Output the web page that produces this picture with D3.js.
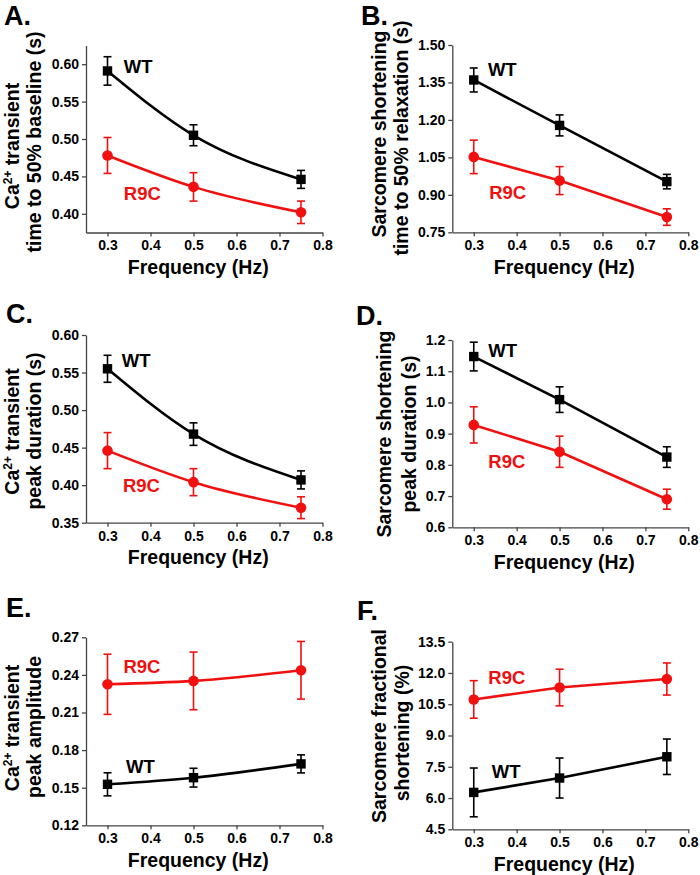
<!DOCTYPE html>
<html><head><meta charset="utf-8">
<script src="https://cdn.jsdelivr.net/npm/d3@7"></script>
<style>
html,body{margin:0;padding:0;background:#fff;}
svg{display:block;font-family:"Liberation Sans",Arial,sans-serif;font-weight:bold;}
</style></head>
<body>
<svg id="chart" width="700" height="875"></svg>
<script>
// ---------- data ----------
const freq = [0.3, 0.5, 0.75];
const xTicks = [0.3, 0.4, 0.5, 0.6, 0.7, 0.8];

const wtA = [0.591, 0.505, 0.446];  const wtAErr = [0.019, 0.014, 0.012];
const r9cA = [0.478, 0.436, 0.402]; const r9cAErr = [0.024, 0.019, 0.015];
const yTicksA = [0.40, 0.45, 0.50, 0.55, 0.60];

const wtB = [1.360, 1.178, 0.953];  const wtBErr = [0.048, 0.042, 0.029];
const r9cB = [1.052, 0.957, 0.811]; const r9cBErr = [0.067, 0.056, 0.033];
const yTicksB = [0.75, 0.90, 1.05, 1.20, 1.35, 1.50];

const wtC = [0.555, 0.468, 0.407];  const wtCErr = [0.018, 0.015, 0.012];
const r9cC = [0.446, 0.404, 0.370]; const r9cCErr = [0.024, 0.018, 0.0145];
const yTicksC = [0.35, 0.40, 0.45, 0.50, 0.55, 0.60];

const wtD = [1.147, 1.009, 0.825];  const wtDErr = [0.046, 0.041, 0.033];
const r9cD = [0.928, 0.842, 0.690]; const r9cDErr = [0.058, 0.050, 0.032];
const yTicksD = [0.6, 0.7, 0.8, 0.9, 1.0, 1.1, 1.2];

const wtE = [0.1527, 0.158, 0.169];   const wtEErr = [0.0092, 0.0075, 0.0072];
const r9cE = [0.2325, 0.2352, 0.2437]; const r9cEErr = [0.024, 0.023, 0.023];
const yTicksE = [0.12, 0.15, 0.18, 0.21, 0.24, 0.27];

const wtF = [6.27, 6.96, 7.98];     const wtFErr = [1.17, 0.96, 0.85];
const r9cF = [10.73, 11.30, 11.71]; const r9cFErr = [0.90, 0.88, 0.77];
const yTicksF = [4.5, 6.0, 7.5, 9.0, 10.5, 12.0, 13.5];

const RED = "#f01010", BLACK = "#000";

// ---------- panels ----------
const panels = [
  {letter:"A.", lx:4, ly:25, x0:86, x1:322.5, yTop:45.5, yBot:232.5, dom:[0.375,0.625], ticks:yTicksA, fmt:".2f",
   wt:wtA, wtErr:wtAErr, r9c:r9cA, r9cErr:r9cAErr, curved:true,
   t1:["Ca","2+"," transient"], t2:"time to 50% baseline (s)", tx:[18.5,41], tc:[146,142],
   wtLab:[0.338,0.588], r9cLab:[0.338,0.4185]},
  {letter:"B.", lx:361, ly:25, x0:452.3, x1:688.3, yTop:45, yBot:232.3, dom:[0.75,1.50], ticks:yTicksB, fmt:".2f",
   wt:wtB, wtErr:wtBErr, r9c:r9cB, r9cErr:r9cBErr, curved:false,
   t1:["Sarcomere shortening"], t2:"time to 50% relaxation (s)", tx:[385.5,407.5], tc:[134,138],
   wtLab:[0.333,1.376], r9cLab:[0.336,0.883]},
  {letter:"C.", lx:6, ly:323, x0:86, x1:322.5, yTop:335, yBot:522.7, dom:[0.35,0.60], ticks:yTicksC, fmt:".2f",
   wt:wtC, wtErr:wtCErr, r9c:r9cC, r9cErr:r9cCErr, curved:true,
   t1:["Ca","2+"," transient"], t2:"peak duration (s)", tx:[19,40.5], tc:[431.5,431],
   wtLab:[0.333,0.5578], r9cLab:[0.336,0.3905]},
  {letter:"D.", lx:356, ly:325, x0:452.3, x1:688.3, yTop:340, yBot:527.3, dom:[0.6,1.2], ticks:yTicksD, fmt:".1f",
   wt:wtD, wtErr:wtDErr, r9c:r9cD, r9cErr:r9cDErr, curved:false,
   t1:["Sarcomere shortening"], t2:"peak duration (s)", tx:[390.5,416], tc:[434,434],
   wtLab:[0.334,1.1465], r9cLab:[0.334,0.789]},
  {letter:"E.", lx:6, ly:617, x0:86, x1:322.5, yTop:637.3, yBot:825.3, dom:[0.12,0.27], ticks:yTicksE, fmt:".2f",
   wt:wtE, wtErr:wtEErr, r9c:r9cE, r9cErr:r9cEErr, curved:true,
   t1:["Ca","2+"," transient"], t2:"peak amplitude", tx:[19,41], tc:[728,727],
   wtLab:[0.343,0.1615], r9cLab:[0.337,0.2413]},
  {letter:"F.", lx:357, ly:620, x0:452.3, x1:688.3, yTop:641.7, yBot:829.3, dom:[4.5,13.5], ticks:yTicksF, fmt:".1f",
   wt:wtF, wtErr:wtFErr, r9c:r9cF, r9cErr:r9cFErr, curved:false,
   t1:["Sarcomere fractional"], t2:"shortening (%)", tx:[385.5,409], tc:[726,733],
   wtLab:[0.342,6.945], r9cLab:[0.334,11.47]}
];

const svg = d3.select("#chart");

panels.forEach(p => {
  const g = svg.append("g");
  const x = d3.scaleLinear().domain([0.25, 0.8]).range([p.x0, p.x1]);
  const y = d3.scaleLinear().domain(p.dom).range([p.yBot, p.yTop]);

  // panel letter
  g.append("text").attr("x", p.lx).attr("y", p.ly).attr("font-size", 27).attr("fill", "#000").text(p.letter);

  // axes
  const xAxis = d3.axisBottom(x).tickValues(xTicks).tickFormat(d3.format(".1f")).tickSizeInner(4).tickSizeOuter(0).tickPadding(4);
  const gx = g.append("g").attr("transform", `translate(0,${p.yBot})`).call(xAxis);
  const yAxis = d3.axisLeft(y).tickValues(p.ticks).tickFormat(d3.format(p.fmt)).tickSizeInner(4).tickSizeOuter(0).tickPadding(3);
  const gy = g.append("g").attr("transform", `translate(${p.x0},0)`).call(yAxis);
  [gx, gy].forEach(a => {
    a.select(".domain").attr("stroke", "#444").attr("stroke-width", 1.3);
    a.selectAll(".tick line").attr("stroke", "#444").attr("stroke-width", 1.3);
    a.selectAll(".tick text").attr("font-size", 14).attr("font-weight", "bold")
      .attr("font-family", '"Liberation Sans",Arial,sans-serif').attr("fill", "#000");
  });
  gx.selectAll(".tick text").attr("dy", "0.71em");

  // x title
  g.append("text").attr("x", (p.x0 + p.x1) / 2 - 6).attr("y", p.yBot + 41.5)
    .attr("text-anchor", "middle").attr("font-size", 19.5).attr("fill", "#000").text("Frequency (Hz)");

  // y title (two lines)
  const t1 = g.append("text").attr("transform", `translate(${p.tx[0]},${p.tc[0]}) rotate(-90)`)
    .attr("text-anchor", "middle").attr("font-size", 19.5).attr("fill", "#000");
  if (p.t1.length === 3) {
    t1.append("tspan").text(p.t1[0]);
    t1.append("tspan").attr("font-size", 12).attr("dy", -7).text(p.t1[1]);
    t1.append("tspan").attr("dy", 7).text(p.t1[2]);
  } else {
    t1.text(p.t1[0]);
  }
  g.append("text").attr("transform", `translate(${p.tx[1]},${p.tc[1]}) rotate(-90)`)
    .attr("text-anchor", "middle").attr("font-size", 19.5).attr("fill", "#000").text(p.t2);

  // series
  const series = [
    {vals: p.wt, err: p.wtErr, color: BLACK, shape: "square", lab: "WT", labPos: p.wtLab},
    {vals: p.r9c, err: p.r9cErr, color: RED, shape: "circle", lab: "R9C", labPos: p.r9cLab}
  ];
  series.forEach(s => {
    const pts = freq.map((f, i) => ({f, v: s.vals[i], e: s.err[i]}));
    const line = d3.line().x(d => x(d.f)).y(d => y(d.v))
      .curve(p.curved ? d3.curveMonotoneX : d3.curveLinear);
    g.append("path").datum(pts).attr("d", line).attr("fill", "none")
      .attr("stroke", s.color).attr("stroke-width", 2.6);

    const eb = g.append("g").attr("stroke", s.color).attr("stroke-width", 1.6);
    pts.forEach(d => {
      eb.append("line").attr("x1", x(d.f)).attr("x2", x(d.f)).attr("y1", y(d.v - d.e)).attr("y2", y(d.v + d.e));
      eb.append("line").attr("x1", x(d.f) - 4).attr("x2", x(d.f) + 4).attr("y1", y(d.v + d.e)).attr("y2", y(d.v + d.e));
      eb.append("line").attr("x1", x(d.f) - 4).attr("x2", x(d.f) + 4).attr("y1", y(d.v - d.e)).attr("y2", y(d.v - d.e));
    });

    if (s.shape === "square") {
      g.selectAll(null).data(pts).enter().append("rect")
        .attr("x", d => x(d.f) - 4.7).attr("y", d => y(d.v) - 4.7)
        .attr("width", 9.4).attr("height", 9.4).attr("fill", s.color);
    } else {
      g.selectAll(null).data(pts).enter().append("circle")
        .attr("cx", d => x(d.f)).attr("cy", d => y(d.v)).attr("r", 5.3).attr("fill", s.color);
    }

    g.append("text").attr("x", x(s.labPos[0])).attr("y", y(s.labPos[1]))
      .attr("font-size", 18.5).attr("fill", s.color).text(s.lab);
  });
});
</script>
</body></html>
